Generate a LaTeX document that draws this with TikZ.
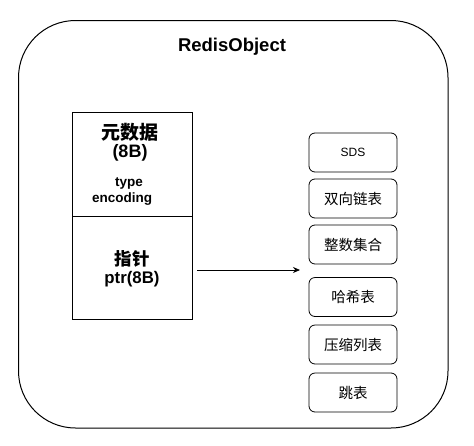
\documentclass[tikz,border=0pt]{standalone}
\usepackage{fontspec}
\usetikzlibrary{arrows.meta}
\setmainfont{Liberation Sans}
\newfontfamily\cjk{Noto Sans CJK SC}
\begin{document}
\begin{tikzpicture}[x=1pt,y=-1pt,
  outer/.style={draw,line width=1pt,rounded corners=57pt},
  plain/.style={draw,line width=0.8pt},
  typebox/.style={draw,line width=0.8pt,rounded corners=6pt,minimum width=88pt,minimum height=39pt,inner sep=0pt,font=\cjk\fontsize{14.5}{17}\selectfont},
  lbl/.style={inner sep=0pt,align=center}]
\useasboundingbox (0,0) rectangle (474,445);
\draw[outer] (18.5,20.5) rectangle (448,428);
\node[lbl,font=\bfseries\fontsize{18.5}{22}\selectfont] (title) at (232,47) {RedisObject};
% left structure
\draw[plain] (72,112) rectangle (192,319);
\coordinate (dl) at (72,216);
\coordinate (dr) at (192,216);
\draw[plain] (dl) -- (dr);
\node[lbl,font=\cjk\bfseries\fontsize{19}{22}\selectfont] (meta) at (130,132) {元数据};
\node[lbl,font=\bfseries\fontsize{18}{21}\selectfont] (meta8) at (130,153) {(8B)};
\node[lbl,font=\bfseries\fontsize{13.5}{16}\selectfont] (type) at (129,183) {type};
\node[lbl,font=\bfseries\fontsize{13.5}{16}\selectfont] (enc) at (122,199) {encoding};
\node[lbl,font=\cjk\bfseries\fontsize{17.5}{20}\selectfont] (ptr) at (132,259) {指针};
\node[lbl,font=\bfseries\fontsize{16.8}{20}\selectfont] (ptr8) at (132,279) {ptr(8B)};
% right boxes
\node[typebox,font=\fontsize{12}{14}\selectfont] (sds) at (353,152.5) {SDS};
\node[typebox] (list) at (353,198.5) {双向链表};
\node[typebox] (intset) at (353,244.5) {整数集合};
\node[typebox] (hash) at (353,297) {哈希表};
\node[typebox] (zip) at (353,344.5) {压缩列表};
\node[typebox] (skip) at (353,392.5) {跳表};
% arrow
\coordinate (as) at (197,270);
\coordinate (ae) at (300,270);
\draw[line width=0.8pt,-{Stealth[length=7pt,width=6pt]}] (as) -- (ae);
\end{tikzpicture}
\end{document}
